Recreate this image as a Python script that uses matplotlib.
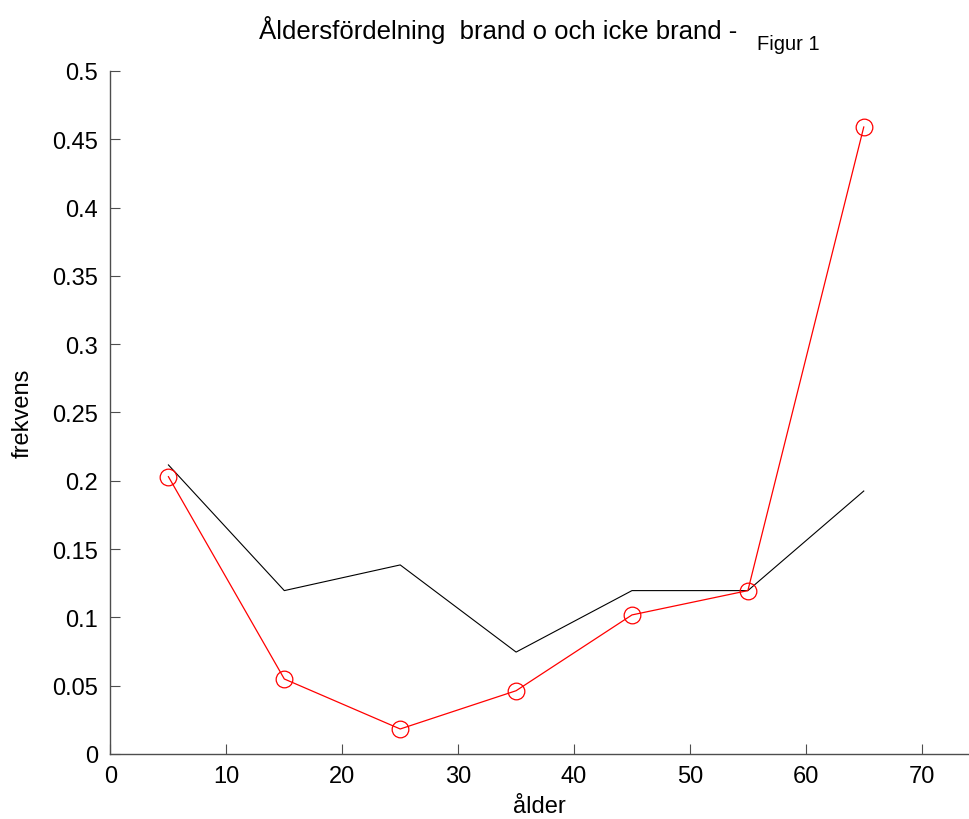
import matplotlib.pyplot as plt

plt.rcParams['font.family'] = ['Liberation Sans', 'DejaVu Sans']

# age class midpoints and relative frequencies
alder = [5, 15, 25, 35, 45, 55, 65]
icke_brand = [0.2116, 0.1196, 0.1384, 0.0746, 0.1196, 0.1196, 0.1925]
brand = [0.2030, 0.0549, 0.0183, 0.0463, 0.1018, 0.1196, 0.4590]

fig = plt.figure(figsize=(9.7, 8.2), dpi=100)
ax = fig.add_axes([0.1139, 0.0793, 0.8841, 0.8329])

ax.plot(alder, icke_brand, color='black', linewidth=0.8)
ax.plot(alder, brand, color='red', linewidth=0.9, marker='o', markersize=12,
        markerfacecolor='none', markeredgecolor='red', markeredgewidth=0.9)

ax.set_xlim(0, 74)
ax.set_ylim(0, 0.5)
ax.set_xticks(range(0, 71, 10))
ax.set_yticks([0, 0.05, 0.1, 0.15, 0.2, 0.25, 0.3, 0.35, 0.4, 0.45, 0.5])
ax.set_yticklabels(['0', '0.05', '0.1', '0.15', '0.2', '0.25', '0.3', '0.35', '0.4', '0.45', '0.5'])

for side in ['top', 'right']:
    ax.spines[side].set_visible(False)
for side in ['left', 'bottom']:
    ax.spines[side].set_color('#4d4d4d')
    ax.spines[side].set_linewidth(1.0)

ax.tick_params(axis='both', direction='in', length=7, width=0.8, color='#4d4d4d',
               labelsize=17, labelcolor='black')
ax.tick_params(axis='y', pad=9)
ax.tick_params(axis='x', pad=8)

ax.set_xlabel('ålder', fontsize=17, labelpad=6)
ax.set_ylabel('frekvens', fontsize=17, labelpad=13)

fig.text(737 / 970, 1 - 30 / 820, 'Åldersfördelning  brand o och icke brand -',
         ha='right', va='center', fontsize=18.5)
fig.text(757 / 970, 1 - 44 / 820, 'Figur 1', ha='left', va='center', fontsize=14.5)

fig.savefig('out.png', dpi=100)
